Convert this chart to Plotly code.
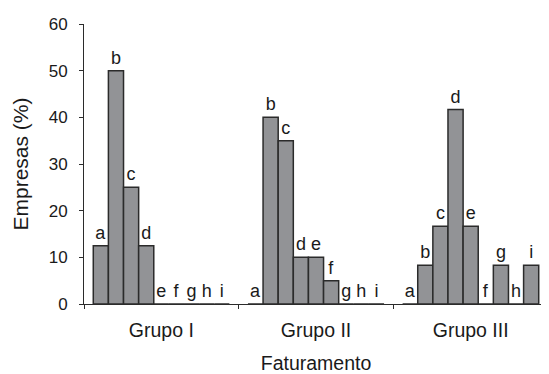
import plotly.graph_objects as go

groups = ["Grupo I", "Grupo II", "Grupo III"]
letters = ["a", "b", "c", "d", "e", "f", "g", "h", "i"]
# values per letter across groups (I, II, III)
val_a = [12.5, 0, 0]
val_b = [50, 40, 8.33]
val_c = [25, 35, 16.67]
val_d = [12.5, 10, 41.67]
val_e = [0, 10, 16.67]
val_f = [0, 5, 0]
val_g = [0, 0, 8.33]
val_h = [0, 0, 0]
val_i = [0, 0, 8.33]
series = [val_a, val_b, val_c, val_d, val_e, val_f, val_g, val_h, val_i]
y_ticks = [0, 10, 20, 30, 40, 50, 60]

FONT = "Liberation Sans, Arial, sans-serif"
INK = "#1a1a1a"

fig = go.Figure()
for letter, vals in zip(letters, series):
    fig.add_trace(go.Bar(
        x=groups, y=vals, name=letter,
        text=[letter] * len(vals), textposition="outside",
        textfont=dict(family=FONT, size=18, color=INK),
        constraintext="none", cliponaxis=False,
        marker=dict(color="#929396", line=dict(color="#2b2b2b", width=1.5)),
        showlegend=False, hoverinfo="skip",
    ))

# page body has an 8px default margin, so the figure is 8px smaller
fig.update_layout(
    width=541, height=366,
    margin=dict(l=76, r=1, t=16, b=70),
    plot_bgcolor="white", paper_bgcolor="white",
    barmode="group", bargap=0.12, bargroupgap=0,
    font=dict(family=FONT, size=18, color=INK),
    xaxis=dict(
        automargin=False,
        showline=True, linecolor="#2b2b2b", linewidth=1,
        ticks="outside", tickson="boundaries", ticklen=4, tickcolor="#2b2b2b",
        ticklabelstandoff=9,
        title=dict(text="Faturamento", standoff=18, font=dict(size=19.5)),
        tickfont=dict(size=19.5),
    ),
    yaxis=dict(
        automargin=False,
        range=[0, 60], tickvals=y_ticks,
        showline=True, linecolor="#2b2b2b", linewidth=1,
        ticks="outside", ticklen=4, tickcolor="#2b2b2b",
        ticklabelstandoff=8,
        showgrid=False, zeroline=False,
        title=dict(text="Empresas (%)", standoff=14, font=dict(size=21)),
        tickfont=dict(size=17),
    ),
)
fig.write_html("out.html")
